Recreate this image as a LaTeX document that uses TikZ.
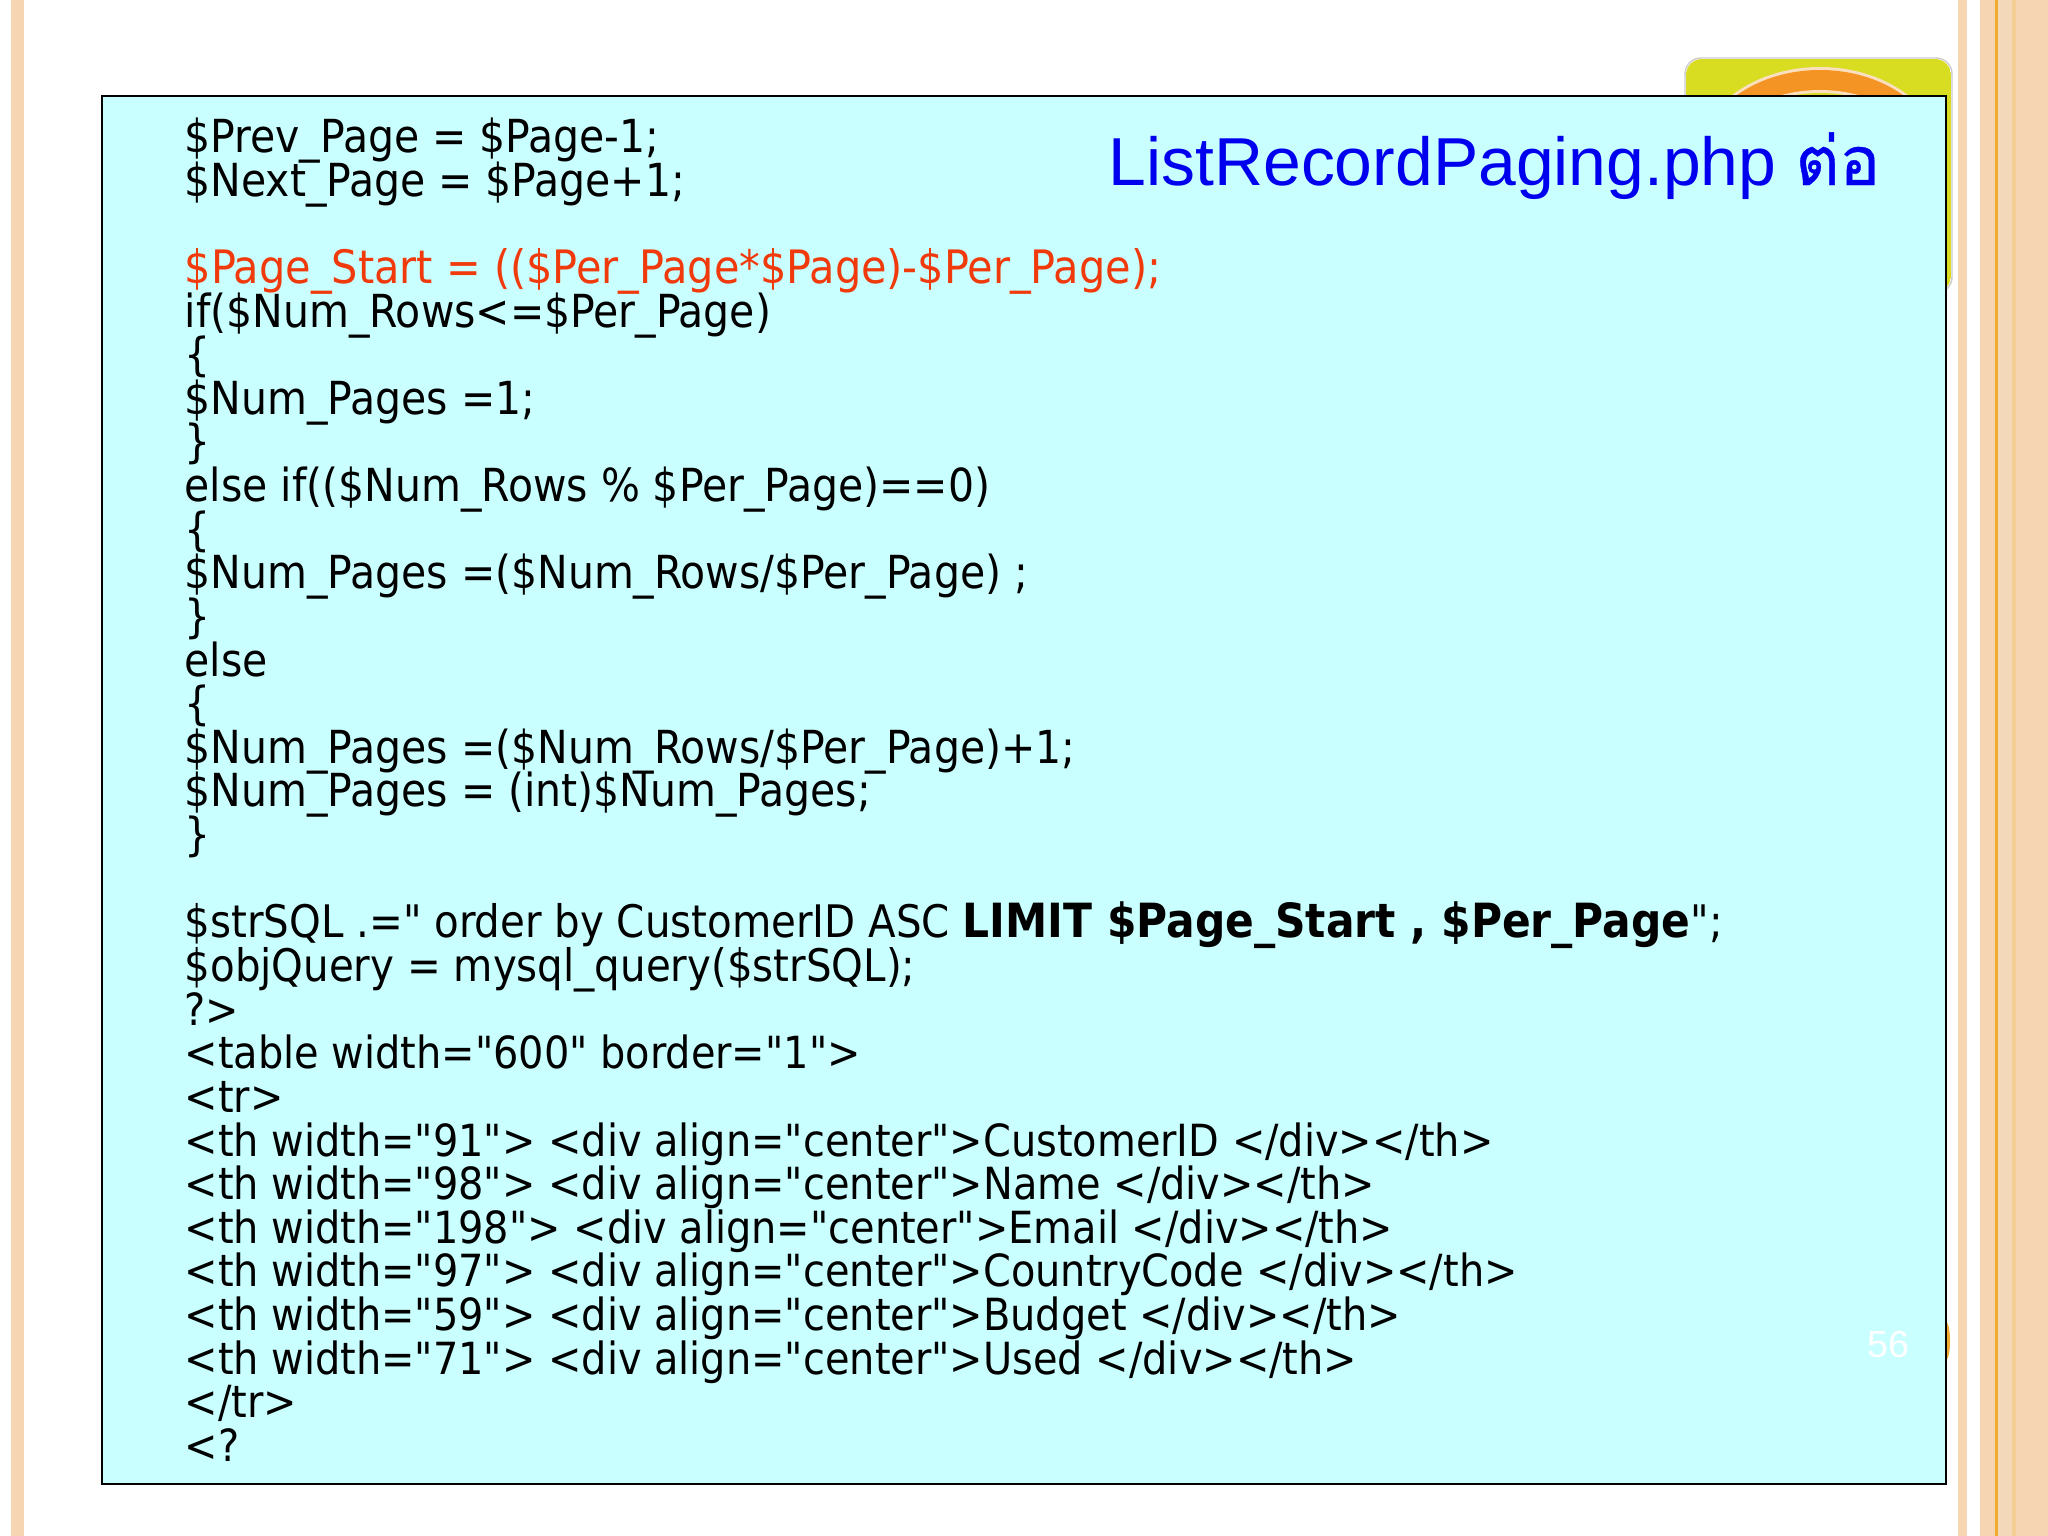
\documentclass[tikz,border=0pt]{standalone}
\usepackage{fontspec}
\newfontfamily\codefont{DejaVu Sans Condensed}
\newfontfamily\arialfont{Liberation Sans}
\newfontfamily\thaifont[Script=Thai,FakeBold=0.6]{Loma}
\definecolor{bandpeach}{HTML}{F6D5B3}
\definecolor{bandpale}{HTML}{F3D8B9}
\definecolor{bandgold}{HTML}{F4CE94}
\definecolor{lineorange}{HTML}{F0AC2E}
\definecolor{logolime}{HTML}{D8DD22}
\definecolor{logoorange}{HTML}{F39425}
\definecolor{boxcyan}{HTML}{CAFFFF}
\definecolor{codered}{HTML}{F03A0C}
\definecolor{titleblue}{HTML}{0000EE}
\newcommand{\codesize}[1]{\fontsize{#1}{14}\selectfont}
\tikzset{
	codeline/.style = {anchor = base west, inner sep = 0pt, font = \codefont\codesize{12.95}, text = black},
	htmlline/.style = {codeline, font = \codefont\codesize{12.6}},
	titleline/.style = {anchor = base west, inner sep = 0pt, text = titleblue},
	pagenum/.style = {inner sep = 0pt, text = white, font = \arialfont\fontsize{10.7}{12}\selectfont}
}
\begin{document}
\begin{tikzpicture}[x = 0.01cm, y = -0.01cm]
		\useasboundingbox (0, 0) rectangle (2048, 1536);
		\fill[white] (0, 0) rectangle (2048, 1536);
		\foreach \x/\w/\c in {11/13/bandpeach, 1958/9/bandpeach, 1980/68/bandpeach, 1998/14/bandpale, 2012/4/bandgold, 1995/3/lineorange}
			\fill[\c] (\x, 0) rectangle (\x + \w, 1536);
		\begin{scope}
			\clip[rounded corners = 1.6mm] (1686, 59) rectangle (1951, 292);
			\fill[logolime] (1686, 59) rectangle (1951, 292);
			\fill[white!70!logoorange] (1820, 164) ellipse (125 and 97);
			\fill[logoorange] (1820, 164) ellipse (122 and 94);
			\fill[white!70!logoorange] (1820, 170) ellipse (110 and 80);
			\fill[logolime] (1820, 170) ellipse (107 and 77);
		\end{scope}
		\draw[white!80!black, rounded corners = 1.6mm] (1685, 58) rectangle (1952, 293);
		\fill[lineorange] (1946, 1341) ellipse (4 and 19);
		\draw[fill = boxcyan, line width = 0.8pt] (102, 96) rectangle (1946, 1484);
		\node[titleline, font = \arialfont\fontsize{19.3}{22}\selectfont] (title) at (1108, 185) {ListRecordPaging.php {\thaifont ต่อ}};
		\node[pagenum] (pageno) at (1888, 1345) {56};
		\foreach \n/\code in {
			1/{\$Prev\_Page = \$Page-1;},
			2/{\$Next\_Page = \$Page+1;},
			4/{\textcolor{codered}{\codesize{13.1}\$Page\_Start = ((\$Per\_Page*\$Page)-\$Per\_Page);}},
			5/{if(\$Num\_Rows<=\$Per\_Page)},
			6/{\{},
			7/{\$Num\_Pages =1;},
			8/{\}},
			9/{else if((\$Num\_Rows \% \$Per\_Page)==0)},
			10/{\{},
			11/{\$Num\_Pages =(\$Num\_Rows/\$Per\_Page) ;},
			12/{\}},
			13/{else},
			14/{\{},
			15/{\$Num\_Pages =(\$Num\_Rows/\$Per\_Page)+1;},
			16/{\$Num\_Pages = (int)\$Num\_Pages;},
			17/{\}},
			19/{\codesize{12.75}\$strSQL .=" order by CustomerID ASC {\codesize{13.4}\bfseries LIMIT \$Page\_Start , \$Per\_Page}";},
			20/{\codesize{12.75}\$objQuery = mysql\_query(\$strSQL);}}
			\node[codeline] (line\n) at (184, {152.5 + (\n - 1) * 43.63}) {\code};
		\foreach \n/\code in {
			21/{?>},
			22/{<table width="600" border="1">},
			23/{<tr>},
			24/{<th width="91"> <div align="center">CustomerID </div></th>},
			25/{<th width="98"> <div align="center">Name </div></th>},
			26/{<th width="198"> <div align="center">Email </div></th>},
			27/{<th width="97"> <div align="center">CountryCode </div></th>},
			28/{<th width="59"> <div align="center">Budget </div></th>},
			29/{<th width="71"> <div align="center">Used </div></th>},
			30/{</tr>},
			31/{<?}}
			\node[htmlline] (line\n) at (184, {152.5 + (\n - 1) * 43.63}) {\code};
		\end{tikzpicture}
\end{document}
